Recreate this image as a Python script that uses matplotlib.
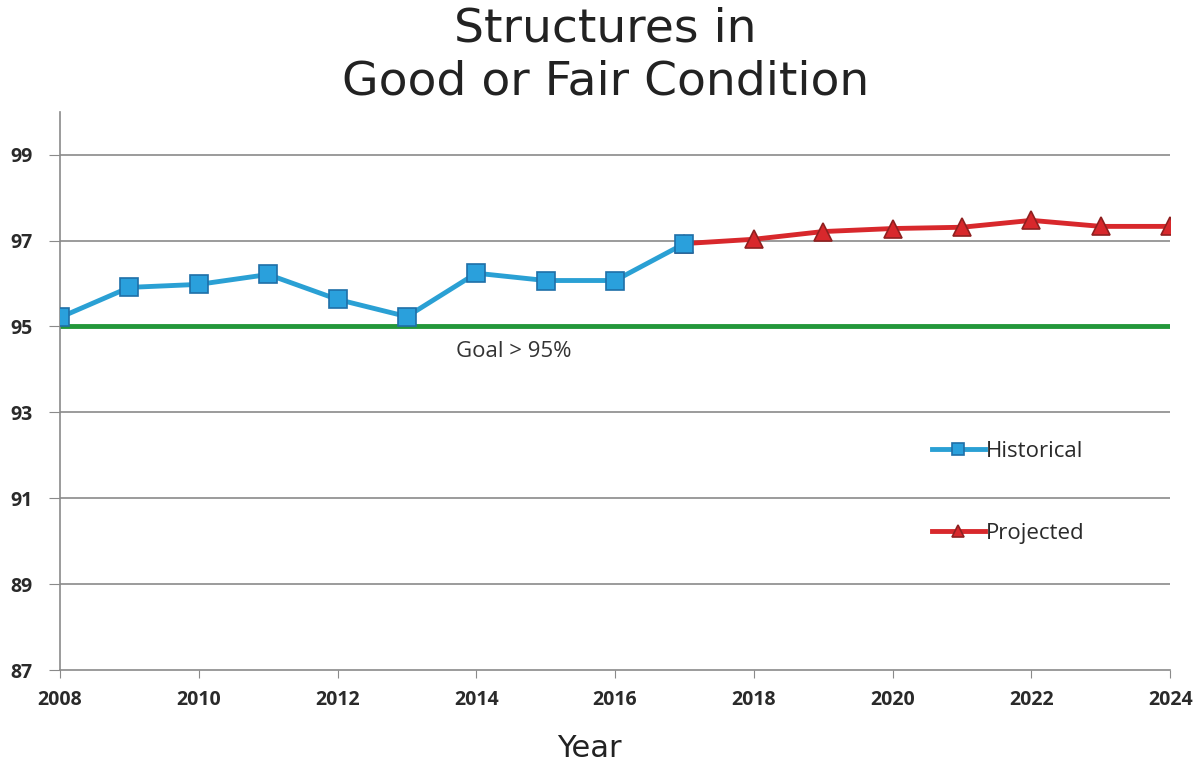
import matplotlib.pyplot as plt

years_hist = [2008, 2009, 2010, 2011, 2012, 2013, 2014, 2015, 2016, 2017]
pct_hist = [95.21, 95.91, 95.98, 96.21, 95.63, 95.23, 96.24, 96.07, 96.07, 96.93]

years_proj = [2017, 2018, 2019, 2020, 2021, 2022, 2023, 2024]
pct_proj = [96.93, 97.03, 97.21, 97.28, 97.31, 97.47, 97.33, 97.33]

goal = 95
yticks = [87, 89, 91, 93, 95, 97, 99]
xticks = [2008, 2010, 2012, 2014, 2016, 2018, 2020, 2022, 2024]

plt.rcParams['font.family'] = ['DejaVu Sans']
body_font = ['Open Sans', 'DejaVu Sans']

fig = plt.figure(figsize=(11.99, 7.65), dpi=100)
ax = fig.add_axes([0.050, 0.124, 0.926, 0.730])

for y in yticks[1:]:
    ax.axhline(y, color='#8a8a8a', lw=1.2, zorder=1)

ax.axhline(goal, color='#23973a', lw=3.5, zorder=2)
ax.text(2014.54, goal - 0.58, "Goal > 95%", ha='center', va='center',
        fontsize=16, color='#333333', family=body_font)

ax.plot(years_proj, pct_proj, color='#d8282c', lw=3.5, marker='^', ms=13,
        mfc='#d8282c', mec='#8f2020', mew=1.2, label='Projected', zorder=3)
ax.plot(years_hist, pct_hist, color='#2aa0d4', lw=3.5, marker='s', ms=13,
        mfc='#2aa0dc', mec='#1f6fa8', mew=1.2, label='Historical', zorder=4)

ax.set_xlim(2008, 2024)
ax.set_ylim(87, 100)
ax.set_xticks(xticks)
ax.set_yticks(yticks)
ax.tick_params(axis='x', length=6, color='#8a8a8a', labelsize=14, pad=8)
ax.tick_params(axis='y', length=8, color='#8a8a8a', labelsize=14, pad=12)
for lab in ax.get_xticklabels() + ax.get_yticklabels():
    lab.set_fontweight('bold')
    lab.set_color('#2a2a2a')
    lab.set_family(body_font)

for s in ['top', 'right']:
    ax.spines[s].set_visible(False)
for s in ['left', 'bottom']:
    ax.spines[s].set_color('#8a8a8a')
    ax.spines[s].set_linewidth(1.2)

handles, labels = ax.get_legend_handles_labels()
leg = ax.legend(handles[::-1], labels[::-1], loc='center left',
                bbox_to_anchor=(0.767, 0.318), frameon=False, fontsize=16,
                labelspacing=2.75, handlelength=2.4, handletextpad=0.05,
                markerscale=0.7)
for t in leg.get_texts():
    t.set_color('#2a2a2a')
    t.set_family(body_font)

fig.text(0.505, 0.962, "Structures in", ha='center', va='center',
         fontsize=34, color='#222222')
fig.text(0.505, 0.893, "Good or Fair Condition", ha='center', va='center',
         fontsize=34, color='#222222')
fig.text(0.492, 0.022, "Year", ha='center', va='center',
         fontsize=22, color='#222222')

fig.savefig('out.png', dpi=100)
